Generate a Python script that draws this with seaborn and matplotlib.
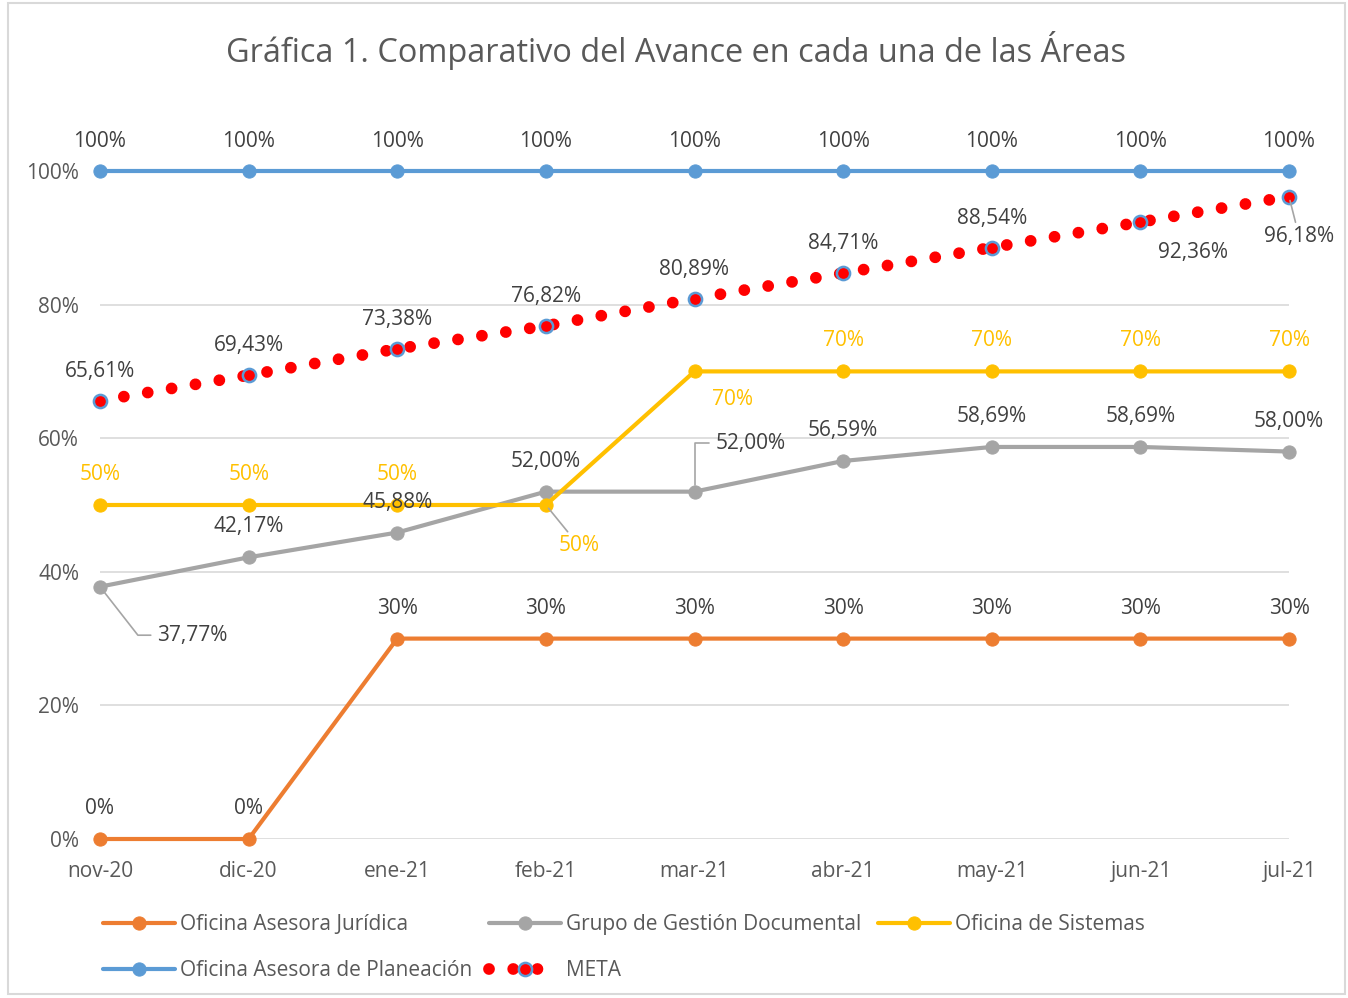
import numpy as np
import pandas as pd
import seaborn as sns
import matplotlib.pyplot as plt
from matplotlib.patches import Rectangle

# Datos del gráfico
meses = ["nov-20", "dic-20", "ene-21", "feb-21", "mar-21",
         "abr-21", "may-21", "jun-21", "jul-21"]
juridica = [0, 0, 30, 30, 30, 30, 30, 30, 30]
documental = [37.77, 42.17, 45.88, 52.00, 52.00, 56.59, 58.69, 58.69, 58.00]
sistemas = [50, 50, 50, 50, 70, 70, 70, 70, 70]
planeacion = [100, 100, 100, 100, 100, 100, 100, 100, 100]
meta = [65.61, 69.43, 73.38, 76.82, 80.89, 84.71, 88.54, 92.36, 96.18]

nombres = ["Oficina Asesora Jurídica", "Grupo de Gestión Documental",
           "Oficina de Sistemas", "Oficina Asesora de Planeación", "META"]

pos = np.arange(len(meses))
df = pd.DataFrame({"pos": pos, "juridica": juridica, "documental": documental,
                   "sistemas": sistemas, "planeacion": planeacion, "meta": meta})

sns.set_theme(style="white")
plt.rcParams["font.family"] = ["Open Sans", "DejaVu Sans"]

texto = "#595959"
etiqueta = "#404040"
naranja = "#ED7D31"
gris = "#A5A5A5"
amarillo = "#FFC000"
azul = "#5B9BD5"
rojo = "#FF0000"
fs = 15

fig = plt.figure(figsize=(13.48, 9.98), dpi=100)
ax = fig.add_axes([100 / 1348, 1 - 839 / 998, 1189 / 1348, 668 / 998])

lw = 3.0
ms = 9.5
sns.lineplot(data=df, x="pos", y="juridica", ax=ax, color=naranja, lw=lw,
             marker="o", ms=ms, mec=naranja, label=nombres[0], clip_on=False, zorder=3)
sns.lineplot(data=df, x="pos", y="documental", ax=ax, color=gris, lw=lw,
             marker="o", ms=ms, mec=gris, label=nombres[1], clip_on=False, zorder=3)
sns.lineplot(data=df, x="pos", y="sistemas", ax=ax, color=amarillo, lw=lw,
             marker="o", ms=ms, mec=amarillo, label=nombres[2], clip_on=False, zorder=4)
sns.lineplot(data=df, x="pos", y="planeacion", ax=ax, color=azul, lw=lw,
             marker="o", ms=ms, mec=azul, label=nombres[3], clip_on=False, zorder=3)
sns.lineplot(data=df, x="pos", y="meta", ax=ax, color=rojo, lw=8.5,
             linestyle=(0, (0.001, 2.05)), dash_capstyle="round",
             marker="o", ms=9.5, mfc=rojo, mec=azul, mew=1.8,
             label=nombres[4], clip_on=False, zorder=5)

ax.set_xlim(0, len(meses) - 1)
ax.set_ylim(0, 100)
ax.set_xticks(pos)
ax.set_xticklabels(meses)
ax.set_yticks([0, 20, 40, 60, 80, 100])
ax.set_yticklabels(["0%", "20%", "40%", "60%", "80%", "100%"])
ax.tick_params(axis="both", length=0, labelsize=fs, colors=texto)
ax.tick_params(axis="y", pad=15)
ax.tick_params(axis="x", pad=16)
ax.set_xlabel("")
ax.set_ylabel("")
ax.grid(axis="y", color="#D9D9D9", lw=1.2)
ax.set_axisbelow(True)
for s in ax.spines.values():
    s.set_visible(False)
ax.get_legend().remove()


def fmt(v):
    return f"{v:.2f}%".replace(".", ",")


def rotulo(i, v, txt, dx, dy, color=etiqueta, guia=None):
    kw = dict(textcoords="offset pixels", ha="center", va="center",
              fontsize=fs, color=color, zorder=6)
    if guia is not None:
        kw["arrowprops"] = guia
    # pequeño ajuste vertical por el descendente de la fuente
    ax.annotate(txt, xy=(i, v), xytext=(dx, dy - 2.5), **kw)


# Etiquetas de datos
for i, v in enumerate(planeacion):
    rotulo(i, v, f"{v:.0f}%", 0, 32)

for i, v in enumerate(meta):
    if i == 7:
        rotulo(i, v, fmt(v), 53, -28)
    elif i == 8:
        rotulo(i, v, fmt(v), 10, -37,
               guia=dict(arrowstyle="-", color=gris, lw=1.2, shrinkA=0, shrinkB=3))
    else:
        rotulo(i, v, fmt(v), 0, 32)

for i, v in enumerate(documental):
    if i == 0:
        rotulo(i, v, fmt(v), 92, -46,
               guia=dict(arrowstyle="-", color=gris, lw=1.2, shrinkA=2, shrinkB=4,
                         relpos=(0, 0.5),
                         connectionstyle="angle,angleA=0,angleB=-52,rad=0"))
    elif i == 4:
        rotulo(i, v, fmt(v), 56, 51,
               guia=dict(arrowstyle="-", color=gris, lw=1.2, shrinkA=2, shrinkB=5,
                         relpos=(0, 0.5),
                         connectionstyle="angle,angleA=0,angleB=90,rad=0"))
    else:
        rotulo(i, v, fmt(v), 0, 33)

for i, v in enumerate(sistemas):
    if i == 3:
        rotulo(i, v, f"{v:.0f}%", 33, -38, color=amarillo,
               guia=dict(arrowstyle="-", color=gris, lw=1.2, shrinkA=0, shrinkB=3))
    elif i == 4:
        rotulo(i, v, f"{v:.0f}%", 38, -26, color=amarillo)
    else:
        rotulo(i, v, f"{v:.0f}%", 0, 33, color=amarillo)

for i, v in enumerate(juridica):
    rotulo(i, v, f"{v:.0f}%", 0, 33)

# Título
fig.text(676 / 1348, 1 - 50 / 998,
         "Gráfica 1. Comparativo del Avance en cada una de las Áreas",
         ha="center", va="center", fontsize=23.4, color=texto)

# Leyenda (orden por filas como en Excel)
h, l = ax.get_legend_handles_labels()
orden = [0, 3, 1, 4, 2]
leg = fig.legend([h[k] for k in orden], [l[k] for k in orden],
                 loc="upper left", bbox_to_anchor=(103 / 1348, 1 - 914 / 998),
                 ncol=3, frameon=False, fontsize=fs, borderaxespad=0,
                 borderpad=0, handlelength=3.45, handletextpad=0.25,
                 columnspacing=0.8, labelspacing=1.2)
for t in leg.get_texts():
    t.set_color(texto)

# Borde del gráfico
fig.patches.append(Rectangle((8 / 1348, 4 / 998), 1337 / 1348, 991 / 998,
                             transform=fig.transFigure, fill=False,
                             edgecolor="#D9D9D9", lw=1.5))

fig.savefig("out.png", dpi=100)
